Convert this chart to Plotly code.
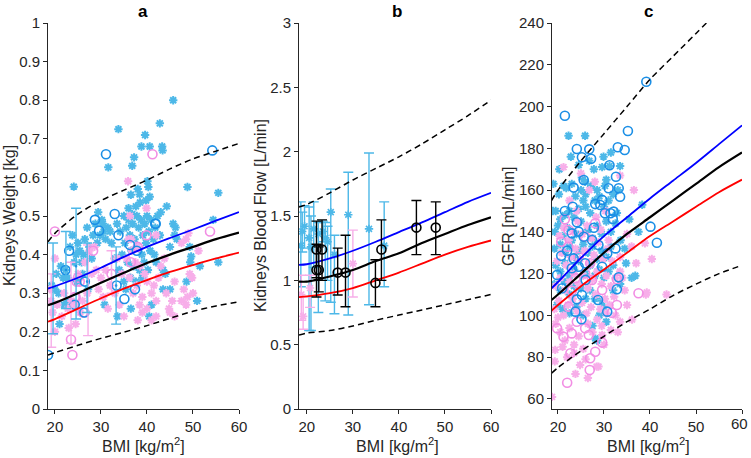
import plotly.graph_objects as go

# ---------------- Panel a : Kidneys weight ----------------
a_curve_bmi = [18.5, 20, 25, 30, 35, 40, 45, 50, 55, 60]
a_blue = [0.312, 0.318, 0.34, 0.366, 0.394, 0.42, 0.443, 0.465, 0.488, 0.51]
a_black = [0.269, 0.275, 0.30, 0.327, 0.353, 0.378, 0.40, 0.42, 0.44, 0.457]
a_red = [0.226, 0.233, 0.26, 0.287, 0.312, 0.334, 0.355, 0.373, 0.39, 0.405]
a_upper = [0.433, 0.455, 0.505, 0.54, 0.567, 0.593, 0.622, 0.648, 0.668, 0.688]
a_lower = [0.14, 0.146, 0.165, 0.183, 0.199, 0.216, 0.235, 0.253, 0.267, 0.278]

a_cyan_x = [45.7, 33.8, 42.8, 39.6, 38.8, 40.6, 43.3, 43.4, 37.2, 36.8, 31.6, 24.1, 48.8, 55.5, 40.1, 40.3,
            36.5, 38.0, 38.4, 40.6, 44.3, 43.0, 29.4, 36.0, 36.8, 37.6, 38.5, 39.8,
            33.5, 34.2, 35.0, 35.5, 36.0, 36.3, 36.9, 37.3, 37.8, 38.2, 38.7, 39.1, 39.5, 40.0, 40.4, 40.9,
            41.4, 41.8, 42.3, 42.8, 35.2, 36.6, 37.9, 38.9, 39.8, 40.7, 41.6, 34.6, 35.8, 37.1, 38.4, 39.4,
            40.2, 42.0, 36.4, 37.6, 39.0, 34.0, 35.0, 33.0, 32.3, 31.5, 30.4, 30.6, 31.0, 43.5, 44.0, 43.5,
            45.0, 45.0, 46.0, 46.5, 45.7, 46.2, 49.3, 49.6, 49.4, 51.5, 55.5, 48.6, 50.9, 54.4,
            36.5, 41.0, 40.5, 35.4, 30.8, 33.6,
            19.3, 20.3, 20.8, 21.3, 21.8, 22.3, 22.8, 23.3, 23.8, 24.2, 24.6, 25.0, 25.4, 25.8, 26.2, 26.5,
            27.0, 27.2, 27.5, 28.0, 28.3, 28.8, 29.2, 22.0, 23.0, 24.8, 26.0, 21.0, 20.0, 29.8, 30.2, 32.0]
a_cyan_y = [0.80, 0.725, 0.74, 0.71, 0.68, 0.68, 0.68, 0.67, 0.652, 0.63, 0.626, 0.576, 0.575, 0.56, 0.59, 0.575,
            0.555, 0.57, 0.556, 0.55, 0.525, 0.51, 0.51, 0.52, 0.505, 0.525, 0.535, 0.54,
            0.48, 0.46, 0.50, 0.47, 0.49, 0.45, 0.48, 0.44, 0.50, 0.47, 0.49, 0.45, 0.48, 0.50, 0.46, 0.49,
            0.44, 0.47, 0.50, 0.45, 0.43, 0.41, 0.42, 0.40, 0.43, 0.41, 0.40, 0.40, 0.38, 0.37, 0.36, 0.38,
            0.36, 0.38, 0.34, 0.33, 0.34, 0.36, 0.33, 0.39, 0.43, 0.47, 0.48, 0.46, 0.44, 0.36, 0.35, 0.31,
            0.31, 0.42, 0.45, 0.44, 0.48, 0.47, 0.42, 0.395, 0.38, 0.37, 0.38, 0.33, 0.28, 0.49,
            0.26, 0.27, 0.24, 0.31, 0.27, 0.24,
            0.32, 0.35, 0.30, 0.37, 0.34, 0.36, 0.34, 0.42, 0.45, 0.38, 0.40, 0.43, 0.41, 0.38, 0.40, 0.44,
            0.47, 0.31, 0.42, 0.39, 0.45, 0.48, 0.43, 0.27, 0.28, 0.33, 0.35, 0.22, 0.31, 0.45, 0.49, 0.46]

a_pink_x = [35.9, 28.6, 20.0, 18.9, 19.5, 19.2, 22.8, 23.6, 24.4, 29.0, 28.0, 35.6, 36.0, 36.6, 36.2, 37.0,
            37.8, 38.4, 39.0, 40.0, 41.0, 41.5, 42.0, 42.5, 43.0, 43.8, 44.2, 44.8, 45.5, 46.0, 42.0, 41.0,
            40.0, 38.5, 37.5, 39.5, 49.0, 48.5, 47.5, 51.2, 49.3, 49.8, 48.0, 48.8, 50.0, 47.5, 48.5, 45.0,
            46.0, 35.0, 34.0, 33.0, 32.0, 31.0, 30.0, 27.0, 26.0, 25.5, 24.5, 23.0, 21.5, 20.5, 25.0, 26.5,
            27.5, 33.5, 34.5, 36.7, 38.0, 42.0, 38.0, 39.0, 30.5, 29.5, 31.5, 20.0, 22.0, 39.9, 36.3]
a_pink_y = [0.59, 0.42, 0.39, 0.31, 0.25, 0.28, 0.26, 0.28, 0.27, 0.36, 0.35, 0.39, 0.44, 0.44, 0.34, 0.30,
            0.32, 0.27, 0.29, 0.26, 0.30, 0.32, 0.28, 0.34, 0.37, 0.39, 0.30, 0.26, 0.28, 0.33, 0.24, 0.23,
            0.33, 0.37, 0.38, 0.35, 0.455, 0.44, 0.43, 0.41, 0.35, 0.34, 0.31, 0.29, 0.30, 0.28, 0.27, 0.25,
            0.24, 0.24, 0.27, 0.30, 0.32, 0.36, 0.34, 0.30, 0.28, 0.25, 0.22, 0.21, 0.24, 0.27, 0.35, 0.38,
            0.41, 0.39, 0.35, 0.41, 0.42, 0.45, 0.23, 0.25, 0.29, 0.31, 0.26, 0.20, 0.30, 0.52, 0.50]

a_bcirc_x = [31.1, 54.2, 33.0, 28.7, 41.9, 18.5, 22.3, 23.1, 24.3, 26.4, 26.5, 29.6, 33.4, 33.8, 35.1, 36.3,
             37.4, 37.8, 41.8]
a_bcirc_y = [0.66, 0.67, 0.505, 0.49, 0.48, 0.14, 0.36, 0.41, 0.27, 0.25, 0.33, 0.462, 0.32, 0.45, 0.285,
             0.425, 0.31, 0.41, 0.48]
a_pcirc_x = [41.2, 20.0, 53.7, 23.5, 23.8, 24.5, 24.7, 28.3, 32.3, 39.9, 36.5, 38.0, 25.4, 25.0, 24.3, 26.1]
a_pcirc_y = [0.66, 0.46, 0.46, 0.18, 0.14, 0.29, 0.33, 0.41, 0.35, 0.45, 0.38, 0.42, 0.33, 0.34, 0.29, 0.25]

a_cerr_x = [19.6, 22.4, 24.6, 27.0, 33.3]
a_cerr_y = [0.315, 0.36, 0.37, 0.33, 0.32]
a_cerr_hi = [0.43, 0.46, 0.52, 0.43, 0.42]
a_cerr_lo = [0.195, 0.26, 0.233, 0.25, 0.22]
a_perr_x = [19.2, 23.5, 27.2, 32.3]
a_perr_y = [0.25, 0.27, 0.31, 0.35]
a_perr_hi = [0.35, 0.38, 0.425, 0.41]
a_perr_lo = [0.16, 0.17, 0.19, 0.30]

# ---------------- Panel b : Kidneys blood flow ----------------
b_curve_bmi = [18.3, 20, 25, 30, 35, 40, 45, 50, 55, 60]
b_blue = [1.12, 1.125, 1.17, 1.23, 1.30, 1.375, 1.45, 1.53, 1.61, 1.68]
b_black = [0.99, 0.99, 1.03, 1.08, 1.15, 1.21, 1.29, 1.36, 1.43, 1.49]
b_red = [0.87, 0.875, 0.90, 0.94, 1.0, 1.06, 1.13, 1.20, 1.26, 1.31]
b_upper = [1.57, 1.59, 1.68, 1.78, 1.87, 1.96, 2.06, 2.17, 2.28, 2.40]
b_lower = [0.575, 0.59, 0.61, 0.645, 0.69, 0.73, 0.77, 0.81, 0.85, 0.89]

b_cyan_x = [19.0, 18.7, 19.5, 20.5, 20.9, 21.5, 22.5, 23.5, 24.0, 24.5, 25.2, 26.0, 29.0, 33.5, 36.8]
b_cyan_y = [1.38, 1.27, 1.42, 1.33, 1.26, 1.40, 1.36, 1.38, 1.33, 1.30, 1.53, 1.20, 1.51, 1.40, 1.27]
b_cyan_hi = [1.53, 1.61, 1.58, 1.57, 1.50, 1.61, 1.45, 1.46, 1.45, 1.42, 1.71, 1.35, 1.84, 1.99, 1.61]
b_cyan_lo = [1.22, 0.95, 1.25, 0.61, 0.61, 1.10, 0.75, 1.30, 0.84, 1.00, 0.83, 0.74, 0.73, 0.81, 0.95]

b_pink_x = [18.8, 19.2, 20.7, 30.0]
b_pink_y = [0.89, 0.72, 0.94, 1.13]
b_pink_hi = [1.04, 0.87, 1.04, 1.39]
b_pink_lo = [0.69, 0.62, 0.79, 0.87]

b_blk_x = [22.1, 23.3, 22.1, 22.6, 26.7, 28.4, 34.9, 36.2, 43.8, 48.0]
b_blk_y = [1.24, 1.24, 1.08, 1.08, 1.06, 1.06, 0.98, 1.24, 1.41, 1.41]
b_blk_hi = [1.46, 1.47, 1.28, 1.26, 1.25, 1.35, 1.16, 1.47, 1.62, 1.61]
b_blk_lo = [1.02, 1.00, 0.87, 0.91, 0.886, 0.795, 0.795, 1.00, 1.20, 1.20]

# ---------------- Panel c : GFR ----------------
c_curve_bmi = [18.6, 20, 25, 30, 35, 40, 45, 50, 55, 60]
c_blue = [113, 116, 127.5, 138, 147, 156, 164.5, 173, 182, 191]
c_black = [107.4, 110, 120, 130, 139, 147, 155, 163, 171, 178]
c_red = [102.3, 105, 114, 122, 130, 138, 145, 152, 159, 165]
c_upper = [155, 160, 174, 187, 200, 213, 224, 235, 246, 257]
c_lower = [72.3, 75, 83, 90, 97, 103, 109.5, 115, 120, 124]

c_cyan_x = [22.3, 25.9, 29.9, 27.8, 29.6, 31.2, 33.5, 25.2, 25.9, 21.2, 21.8, 23.0, 25.0, 26.0, 27.2, 28.5,
            38.3, 20.2, 19.5, 20.5, 21.5, 22.5, 23.5, 24.5, 26.0, 27.0, 28.0, 29.0, 30.0, 31.0, 32.0, 33.0,
            30.5, 19.3, 20.0, 21.0, 22.0, 23.0, 24.0, 25.0, 26.5, 27.5, 28.5, 29.5, 30.5, 31.5, 32.5, 19.2,
            20.5, 21.5, 22.5, 23.5, 24.5, 25.5, 26.5, 27.5, 28.5, 29.5, 30.5, 31.5, 19.5, 20.5, 21.5, 22.5,
            23.5, 24.5, 26.0, 27.0, 28.0, 29.0, 30.0, 31.0, 32.0, 36.8, 19.2, 20.5, 21.5, 22.5, 23.5, 25.0,
            26.0, 27.0, 28.0, 29.6, 30.0, 19.8, 21.0, 22.5, 24.0, 25.5, 27.5, 28.1, 28.5, 36.0, 34.8, 33.5,
            32.0, 30.5, 29.0, 33.6, 34.5, 18.9, 19.0, 20.3, 22.8, 24.5, 26.8, 31.5, 23.8, 25.5, 30.2, 32.8,
            35.5, 37.5]
c_cyan_y = [186, 186, 176, 170, 171, 171.5, 171.5, 166, 164, 162, 161, 163, 160, 158, 162, 160,
            153, 158, 150, 146, 148, 150, 147, 151, 152, 149, 155, 157, 152, 155, 158, 160,
            165, 140, 143, 138, 142, 136, 139, 145, 141, 137, 143, 139, 145, 140, 144, 132,
            134, 130, 133, 128, 131, 134, 130, 133, 127, 131, 128, 133, 124, 121, 125, 119,
            122, 126, 120, 124, 119, 122, 118, 121, 124, 119, 115, 112, 116, 110, 114, 113,
            108, 112, 108, 107, 104, 105, 103, 101, 104, 100, 95, 89, 88, 118, 125, 115,
            112, 97, 100, 136, 132, 150, 163, 170, 176, 172, 174, 178, 157, 155, 162, 149,
            146, 140]

c_pink_x = [21.2, 36.5, 33.5, 38.9, 40.4, 39.1, 43.6, 39.3, 36.1, 29.6, 28.8, 19.4, 18.7, 24.8, 28.4, 19.5,
            20.5, 21.5, 22.5, 23.5, 24.5, 25.5, 26.5, 27.5, 28.5, 29.5, 30.5, 31.5, 32.5, 33.5, 19.2, 20.2,
            21.2, 22.2, 23.2, 24.2, 25.2, 26.2, 27.2, 28.2, 29.2, 30.2, 31.2, 32.2, 19.5, 20.5, 21.5, 22.5,
            23.5, 24.5, 25.5, 26.5, 27.5, 28.5, 29.5, 30.5, 31.5, 32.5, 33.5, 19.8, 20.8, 21.8, 22.8, 23.8,
            24.8, 25.8, 26.8, 27.8, 28.8, 29.8, 30.8, 31.8, 20.3, 21.3, 22.3, 23.3, 24.3, 25.3, 26.3, 27.3,
            28.3, 29.3, 30.3, 22.5, 24.0, 26.8, 28.0, 25.0, 19.3, 22.0, 23.5, 26.0, 21.0, 30.0, 33.0, 35.0,
            34.5, 37.0, 36.0, 35.0, 33.5, 20.0, 31.0, 34.0, 23.8, 26.5]
c_pink_y = [171, 160, 167, 134.5, 127, 110, 110, 111, 98, 90.6, 75.5, 83.5, 61, 76.3, 75.5, 96,
            92, 88, 94, 86, 90, 84, 96, 92, 98, 95, 101, 93, 100, 97, 103, 107,
            100, 105, 108, 102, 106, 101, 104, 110, 103, 108, 105, 109, 114, 118, 112, 116,
            120, 115, 119, 113, 117, 121, 115, 119, 114, 118, 121, 126, 130, 124, 128, 132,
            127, 131, 125, 129, 135, 127, 132, 126, 138, 142, 136, 140, 145, 139, 143, 137,
            147, 141, 150, 155, 150, 160, 164, 168, 78, 80, 82, 79, 85, 86, 92, 105,
            112, 125, 133, 139, 128, 99, 136, 118, 72, 70]

c_bcirc_x = [21.5, 39.2, 35.2, 24.1, 26.8, 25.2, 27.2, 33.0, 34.5, 31.2, 32.6, 33.2, 33.5, 23.4, 25.6, 31.0,
             29.6, 29.2, 30.2, 31.4, 32.1, 28.1, 23.2, 24.1, 24.5, 25.6, 31.9, 40.1, 41.5, 27.4, 28.8, 23.0,
             20.7, 23.4, 19.8, 23.0, 24.5, 25.9, 29.6, 30.7, 32.5, 33.2, 32.8, 28.7, 30.7, 25.2, 23.8, 25.1,
             24.1, 20.9, 22.0, 26.0, 27.8, 21.5]
c_bcirc_y = [195.6, 211.9, 188.3, 179.7, 179.5, 175.7, 175.0, 180.5, 179.2, 171.9, 166.4, 160.9, 156.8, 161.2,
             164.8, 160.9, 155.3, 152.9, 148.9, 148.9, 149.7, 153.3, 152.0, 144.6, 140.1, 137.7, 146.2, 142.5,
             134.8, 136.1, 133.7, 139.3, 128.6, 127.3, 119.4, 122.6, 123.3, 125.0, 123.3, 129.7, 132.1, 118.3,
             112.5, 107.4, 101.8, 109.8, 101.8, 98.2, 107.7, 113.0, 131.0, 117.0, 142.0, 150.0]
c_pcirc_x = [37.5, 32.8, 29.6, 28.1, 27.0, 26.9, 22.0, 22.7, 19.8, 21.2, 23.0, 26.7, 31.7, 32.8, 29.6, 27.4,
             23.8, 24.1, 25.9, 22.3, 22.3, 25.9, 28.1, 22.2, 27.0, 25.9, 23.0, 20.7, 24.5, 21.5]
c_pcirc_y = [110.6, 105.0, 87.0, 82.6, 79.5, 73.9, 67.8, 81.9, 93.8, 89.8, 91.4, 90.6, 101.3, 117.3, 112.2,
             117.0, 117.8, 97.0, 93.8, 104.2, 140.9, 137.7, 144.1, 132.9, 125.0, 120.2, 111.8, 135.3, 128.0,
             146.0]

x_ticks = [20, 30, 40, 50, 60]

# ---------------- styling ----------------
CYAN = "#4db8e8"
PINK = "#f7aee9"
PINKC = "#f28ee4"
BLUEC = "#1b8fe6"
FONT = "Arial, Liberation Sans, sans-serif"
AX = "#262626"

fig = go.Figure()


def add_scatter(xa, ya, x, y, symbol, color, size, lw):
    fig.add_trace(go.Scatter(x=x, y=y, mode="markers", xaxis=xa, yaxis=ya,
                             marker=dict(symbol=symbol, size=size, color=color,
                                         line=dict(color=color, width=lw))))


def add_err(xa, ya, x, y, hi, lo, color, symbol, mcolor, size):
    plus = [h - v for h, v in zip(hi, y)]
    minus = [v - l for v, l in zip(y, lo)]
    fig.add_trace(go.Scatter(x=x, y=y, mode="markers", xaxis=xa, yaxis=ya,
                             marker=dict(symbol=symbol, size=size, color=mcolor,
                                         line=dict(color=mcolor, width=1.6)),
                             error_y=dict(type="data", symmetric=False, array=plus, arrayminus=minus,
                                          color=color, thickness=1.4, width=5)))


def add_curves(xa, ya, bmi, blue, black, red, upper, lower):
    for vals, col, dash, w in [(upper, "black", "6px,4px", 1.5), (lower, "black", "6px,4px", 1.5),
                               (red, "#ff0000", "solid", 1.8), (blue, "#0000ff", "solid", 1.8),
                               (black, "black", "solid", 2.2)]:
        fig.add_trace(go.Scatter(x=bmi, y=vals, mode="lines", xaxis=xa, yaxis=ya,
                                 line=dict(color=col, dash=dash, width=w, shape="spline", smoothing=0.8)))


# panel a
add_scatter("x", "y", a_cyan_x, a_cyan_y, "asterisk-open", CYAN, 7, 2)
add_scatter("x", "y", a_pink_x, a_pink_y, "asterisk-open", PINK, 7, 2)
add_scatter("x", "y", a_pcirc_x, a_pcirc_y, "circle-open", PINKC, 9, 1.6)
add_scatter("x", "y", a_bcirc_x, a_bcirc_y, "circle-open", BLUEC, 9, 1.6)
add_err("x", "y", a_perr_x, a_perr_y, a_perr_hi, a_perr_lo, PINK, "asterisk-open", PINK, 1)
add_err("x", "y", a_cerr_x, a_cerr_y, a_cerr_hi, a_cerr_lo, CYAN, "circle-open", BLUEC, 1)
add_curves("x", "y", a_curve_bmi, a_blue, a_black, a_red, a_upper, a_lower)

# panel b
add_err("x2", "y2", b_cyan_x, b_cyan_y, b_cyan_hi, b_cyan_lo, CYAN, "asterisk-open", CYAN, 7)
add_err("x2", "y2", b_pink_x, b_pink_y, b_pink_hi, b_pink_lo, PINK, "asterisk-open", PINK, 7)
add_curves("x2", "y2", b_curve_bmi, b_blue, b_black, b_red, b_upper, b_lower)
add_err("x2", "y2", b_blk_x, b_blk_y, b_blk_hi, b_blk_lo, "black", "circle-open", "black", 9)

# panel c
add_scatter("x3", "y3", c_cyan_x, c_cyan_y, "asterisk-open", CYAN, 7, 2)
add_scatter("x3", "y3", c_pink_x, c_pink_y, "asterisk-open", PINK, 7, 2)
add_scatter("x3", "y3", c_pcirc_x, c_pcirc_y, "circle-open", PINKC, 9, 1.6)
add_scatter("x3", "y3", c_bcirc_x, c_bcirc_y, "circle-open", BLUEC, 9, 1.6)
add_curves("x3", "y3", c_curve_bmi, c_blue, c_black, c_red, c_upper, c_lower)

W, H = 751, 458
ydom = [1 - 409 / H, 1 - 23 / H]
TF = 15
common = dict(showline=True, linecolor=AX, linewidth=1, ticks="outside", ticklen=4, tickcolor=AX,
              showgrid=False, zeroline=False, tickfont=dict(size=TF, color=AX, family=FONT),
              automargin=False)

fig.update_layout(
    width=W, height=H, showlegend=False, template="none",
    margin=dict(l=0, r=0, t=0, b=0),
    paper_bgcolor="white", plot_bgcolor="white",
    font=dict(family=FONT, color=AX),
    xaxis=dict(domain=[48 / W, 239 / W], range=[18.5, 60], tickvals=x_ticks, anchor="y", **common),
    yaxis=dict(domain=ydom, range=[0, 1], tickvals=[i / 10 for i in range(11)],
               ticktext=["0", "0.1", "0.2", "0.3", "0.4", "0.5", "0.6", "0.7", "0.8", "0.9", "1"],
               anchor="x", **common),
    xaxis2=dict(domain=[299 / W, 491 / W], range=[18.3, 60], tickvals=x_ticks, anchor="y2", **common),
    yaxis2=dict(domain=ydom, range=[0, 3], tickvals=[0, 0.5, 1, 1.5, 2, 2.5, 3],
                ticktext=["0", "0.5", "1", "1.5", "2", "2.5", "3"], anchor="x2", **common),
    xaxis3=dict(domain=[552 / W, 742 / W], range=[18.7, 60], tickvals=x_ticks,
                ticktext=["20", "30", "40", "50", ""], anchor="y3", **common),
    yaxis3=dict(domain=ydom, range=[55.2, 240], tickvals=list(range(60, 241, 20)), anchor="x3", **common),
)

ann = []
for cx, letter in [(143, "a"), (397, "b"), (648, "c")]:
    ann.append(dict(x=cx / W, y=1 - 12 / H, xref="paper", yref="paper", text=f"<b>{letter}</b>",
                    showarrow=False, font=dict(size=17, family=FONT, color="black"),
                    xanchor="center", yanchor="middle"))
    ann.append(dict(x=cx / W, y=1 - 445 / H, xref="paper", yref="paper", text="BMI [kg/m<sup>2</sup>]",
                    showarrow=False, font=dict(size=16, family=FONT, color=AX),
                    xanchor="center", yanchor="middle"))
# last x tick label of panel c, kept inside the page
ann.append(dict(x=750 / W, y=1 - 423 / H, xref="paper", yref="paper", text="60", showarrow=False,
                font=dict(size=TF, family=FONT, color=AX), xanchor="right", yanchor="middle"))
ymid = (ydom[0] + ydom[1]) / 2
for cx, t in [(9, "Kidneys Weight [kg]"), (260, "Kidneys Blood Flow [L/min]"), (508, "GFR [mL/min]")]:
    ann.append(dict(x=cx / W, y=ymid, xref="paper", yref="paper", text=t, textangle=-90,
                    showarrow=False, font=dict(size=16, family=FONT, color=AX),
                    xanchor="center", yanchor="middle"))
fig.update_layout(annotations=ann)

fig.write_html("out.html", config={"displayModeBar": False},
               post_script="document.body.style.margin='0';")
